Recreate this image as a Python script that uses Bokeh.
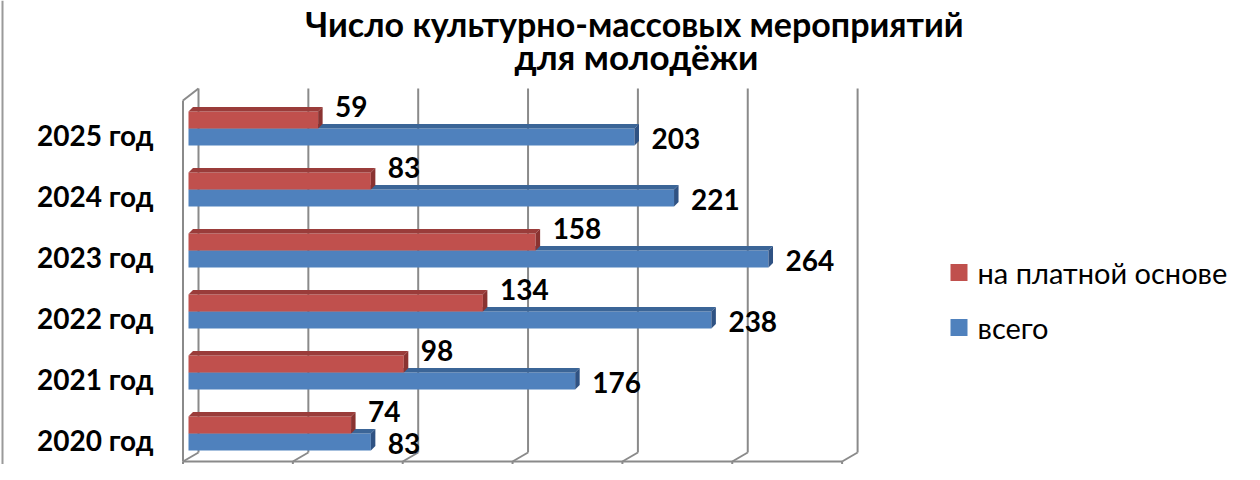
from bokeh.plotting import figure
from bokeh.models import Range1d
from bokeh.core.properties import value
from bokeh.embed import file_html
from bokeh.resources import INLINE

# ---- data ----
categories = ["2020 год", "2021 год", "2022 год", "2023 год", "2024 год", "2025 год"]
paid = [74, 98, 134, 158, 83, 59]          # на платной основе
total = [83, 176, 238, 264, 221, 203]      # всего
x_ticks = [0, 50, 100, 150, 200, 250, 300]
series_names = ["на платной основе", "всего"]
title_lines = ["Число культурно-массовых мероприятий", "для молодёжи"]

W, H = 1244, 464
PX = 2.197    # px per value unit
ROW = 61.0    # px per category
ZERO_PX = 188.0
x0 = -ZERO_PX / PX
y0 = -(H - 433) / ROW

def X(px):   # canvas pixel -> x data
    return px / PX + x0

def Y(py):   # canvas pixel -> y data
    return (H - py) / ROW + y0

p = figure(width=W, height=H, output_backend="svg", toolbar_location=None,
           x_range=Range1d(x0, x0 + W / PX), y_range=Range1d(y0, y0 + H / ROW),
           min_border=0, border_fill_color="white", background_fill_color="white",
           outline_line_color=None)
p.axis.visible = False
p.grid.visible = False

FONT = value("Lato")
grid_col = "#8a8a8a"

# ---- 3D walls / gridlines ----
back_off = 10.0 / PX
front_off = -5.5 / PX
top_y, wall_bot, floor_y = Y(88), Y(452), Y(461)
for t in x_ticks:
    p.line([t + back_off, t + back_off], [top_y, wall_bot], line_color=grid_col, line_width=2)
    p.line([t + back_off, t + front_off], [wall_bot, floor_y], line_color=grid_col, line_width=2)
    p.line([t + front_off, t + front_off], [floor_y, Y(470)], line_color=grid_col, line_width=2)
# left wall
p.line([front_off, front_off], [Y(100), floor_y], line_color=grid_col, line_width=2)
p.line([front_off, back_off], [Y(100), top_y], line_color=grid_col, line_width=2)
# floor front edge
p.line([x_ticks[0] + front_off, x_ticks[-1] + front_off], [floor_y, floor_y],
       line_color=grid_col, line_width=2)

# ---- bars ----
h = 17 / ROW
ddx = 4.5 / PX
ddy = 4.5 / ROW
idx = list(range(len(categories)))

def draw_bar(vals, bottoms, front, topc, side):
    tops = [b + h for b in bottoms]
    p.quad(left=[0] * len(vals), right=vals, bottom=bottoms, top=tops,
           fill_color=front, line_color=None)
    xs_top = [[0, v, v + ddx, ddx] for v in vals]
    ys_top = [[t, t, t + ddy, t + ddy] for t in tops]
    p.patches(xs_top, ys_top, fill_color=topc, line_color=None)
    xs_side = [[v, v + ddx, v + ddx, v] for v in vals]
    ys_side = [[b, b + ddy, t + ddy, t] for b, t in zip(bottoms, tops)]
    p.patches(xs_side, ys_side, fill_color=side, line_color=None)

blue_bottoms = [i - h for i in idx]
red_bottoms = [float(i) for i in idx]
draw_bar(total, blue_bottoms, "#4F81BD", "#3B6597", "#2F5283")
draw_bar(paid, red_bottoms, "#C0504D", "#9A3C3A", "#8A3331")

# ---- data labels ----
p.text(x=[v + 17 / PX for v in paid], y=[i + 22 / ROW for i in idx],
       text=[str(v) for v in paid], text_font=FONT, text_font_style="bold",
       text_font_size="28px", text_baseline="middle", text_align="left", text_color="black")
p.text(x=[v + 17 / PX for v in total], y=[i - 10 / ROW for i in idx],
       text=[str(v) for v in total], text_font=FONT, text_font_style="bold",
       text_font_size="28px", text_baseline="middle", text_align="left", text_color="black")

# ---- category labels ----
p.text(x=[X(153)] * len(categories), y=[i - 6 / ROW for i in idx], text=categories,
       text_font=FONT, text_font_style="bold", text_font_size="28px",
       text_baseline="middle", text_align="right", text_color="black")

# ---- title ----
p.text(x=[X(634)], y=[Y(23)], text=[title_lines[0]], text_font=FONT, text_font_style="bold",
       text_font_size="34px", text_baseline="alphabetic", text_align="center", text_color="black")
p.text(x=[X(636)], y=[Y(55)], text=[title_lines[1]], text_font=FONT, text_font_style="bold",
       text_font_size="35px", text_baseline="alphabetic", text_align="center", text_color="black")

# ---- legend ----
leg_colors = ["#C0504D", "#4F81BD"]
leg_y = [272, 327]
for name, col, ly in zip(series_names, leg_colors, leg_y):
    p.quad(left=[X(950)], right=[X(967)], bottom=[Y(ly + 8.5)], top=[Y(ly - 8.5)],
           fill_color=col, line_color=None)
    p.text(x=[X(977)], y=[Y(ly)], text=[name], text_font=FONT, text_font_size="29px",
           text_baseline="middle", text_align="left", text_color="black")

# ---- chart border ----
p.line([X(2), X(2)], [Y(0), Y(H)], line_color="#9a9a9a", line_width=2)

open("out.html", "w").write(file_html(p, INLINE))
